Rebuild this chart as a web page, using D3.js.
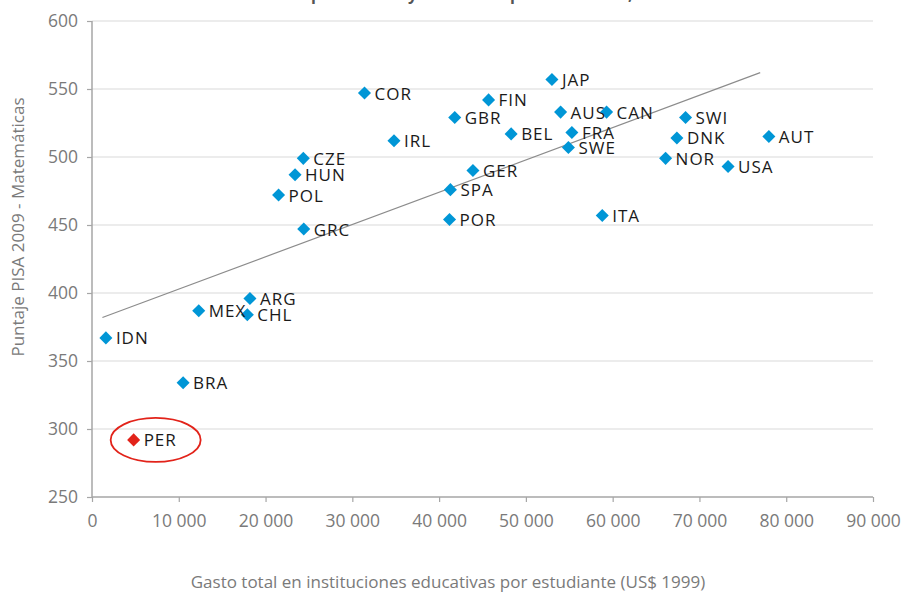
<!DOCTYPE html>
<html>
<head>
<meta charset="utf-8">
<script src="https://cdn.jsdelivr.net/npm/d3@7"></script>
<style>
  html, body { margin: 0; padding: 0; background: #fff; }
  svg { display: block; }
</style>
</head>
<body>
<svg id="chart" width="905" height="593"></svg>
<script>
// ---- data ----
const countries = ["IDN","PER","BRA","MEX","ARG","CHL","COR","IRL","CZE","HUN","POL","GRC",
  "GBR","SPA","POR","JAP","FIN","AUS","CAN","BEL","FRA","SWE","GER","ITA","SWI","DNK","AUT","NOR","USA"];
const spending = [1600,4800,10500,12300,18200,17900,31400,34800,24350,23400,21500,24400,
  41800,41300,41200,53000,45700,54000,59300,48300,55300,54900,43900,58800,68400,67400,78000,66100,73300];
const scores = [367,292,334,387,396,384,547,512,499,487,472,447,
  529,476,454,557,542,533,533,517,518,507,490,457,529,514,515,499,493];
const highlighted = ["PER"];
const trendX = [1200, 77000];
const trendY = [382, 562];
const xTicks = [0,10000,20000,30000,40000,50000,60000,70000,80000,90000];
const yTicks = [250,300,350,400,450,500,550,600];
const title = "Gasto por alumno y resultados por estudiante, OCDE 2009";
const xTitle = "Gasto total en instituciones educativas por estudiante (US$ 1999)";
const yTitle = "Puntaje PISA 2009 - Matemáticas";

// ---- chart ----
const svg = d3.select("#chart");
const x = d3.scaleLinear().domain([0, 90000]).range([92, 873]);
const y = d3.scaleLinear().domain([250, 600]).range([497, 21]);
const fmt = v => d3.format(",")(v).replace(/,/g, " ");
const font = "'Open Sans', 'Noto Sans', sans-serif";

// title (cut off at top as in reference)
svg.append("text").attr("x", 491).attr("y", 0).attr("text-anchor", "middle")
  .attr("font-family", font).attr("font-size", 16).attr("font-weight", "bold")
  .attr("fill", "#555").text(title);

// gridlines
svg.append("g").selectAll("line").data(yTicks.filter(d => d > 250)).join("line")
  .attr("x1", x(0)).attr("x2", x(90000))
  .attr("y1", d => y(d)).attr("y2", d => y(d))
  .attr("stroke", "#d9d9d9").attr("stroke-width", 1.2);

// axes
const xAxis = svg.append("g").attr("transform", `translate(0,${y(250)})`)
  .call(d3.axisBottom(x).tickValues(xTicks).tickFormat(fmt).tickSize(5).tickPadding(13));
const yAxis = svg.append("g").attr("transform", `translate(${x(0)},0)`)
  .call(d3.axisLeft(y).tickValues(yTicks).tickSize(5).tickPadding(9));
[xAxis, yAxis].forEach(a => {
  a.select(".domain").attr("stroke", "#a6a6a6").attr("stroke-width", 1.5);
  a.selectAll(".tick line").attr("stroke", "#a6a6a6").attr("stroke-width", 1.2);
  a.selectAll(".tick text").attr("fill", "#7a7a7a").attr("font-family", font)
    .attr("font-size", 17.5);
});
xAxis.select(".domain").attr("d", `M${x(0)},0H${x(90000)}`);
yAxis.select(".domain").attr("d", `M0,${y(600)}V${y(250)}`);

// axis titles
svg.append("text").attr("x", 448).attr("y", 588).attr("text-anchor", "middle")
  .attr("font-family", font).attr("font-size", 17).attr("fill", "#7a7a7a").text(xTitle);
svg.append("text").attr("transform", "translate(24,227) rotate(-90)").attr("text-anchor", "middle")
  .attr("font-family", font).attr("font-size", 17).attr("fill", "#7a7a7a").text(yTitle);

// trend line
svg.append("line")
  .attr("x1", x(trendX[0])).attr("y1", y(trendY[0]))
  .attr("x2", x(trendX[1])).attr("y2", y(trendY[1]))
  .attr("stroke", "#8c8c8c").attr("stroke-width", 1.2);

// points
const pts = countries.map((c, i) => ({ c, sx: spending[i], sy: scores[i], hl: highlighted.includes(c) }));
const g = svg.append("g");
g.selectAll("path").data(pts).join("path")
  .attr("transform", d => `translate(${x(d.sx)},${y(d.sy)}) rotate(45)`)
  .attr("d", d3.symbol().type(d3.symbolSquare).size(85))
  .attr("fill", d => d.hl ? "#e2231a" : "#0096d6");
g.selectAll("text").data(pts).join("text")
  .attr("x", d => x(d.sx) + 10).attr("y", d => y(d.sy) + 6.5)
  .attr("font-family", font).attr("font-size", 17).attr("letter-spacing", "1px")
  .attr("fill", "#1a1a1a").text(d => d.c);

// highlight ellipse
const per = pts.find(d => d.hl);
svg.append("ellipse").attr("cx", x(per.sx) + 22).attr("cy", y(per.sy))
  .attr("rx", 45).attr("ry", 22).attr("fill", "none")
  .attr("stroke", "#e2231a").attr("stroke-width", 1.8);
</script>
</body>
</html>
